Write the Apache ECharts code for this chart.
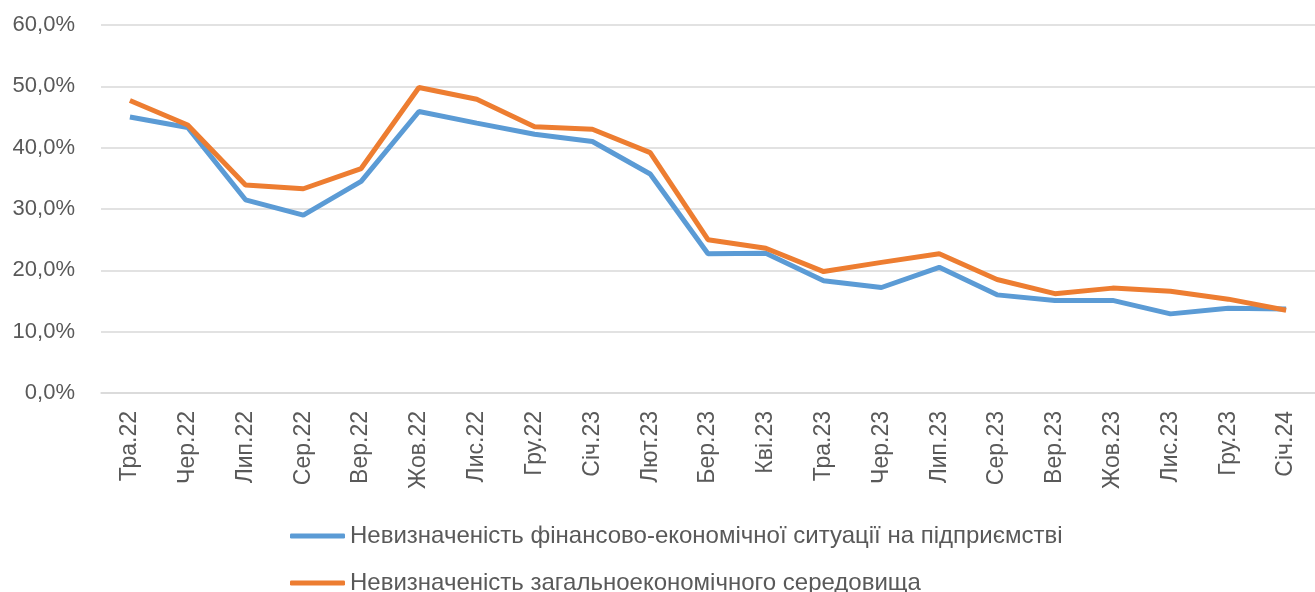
<!DOCTYPE html>
<html>
<head>
<meta charset="utf-8">
<script src="https://cdn.jsdelivr.net/npm/echarts@6/dist/echarts.min.js"></script>
<style>
  html, body { margin: 0; padding: 0; background: #fff; }
  #chart { width: 1315px; height: 592px; }
</style>
</head>
<body>
<div id="chart"></div>
<script>
// місяці
const months = ['Тра.22', 'Чер.22', 'Лип.22', 'Сер.22', 'Вер.22', 'Жов.22', 'Лис.22', 'Гру.22', 'Січ.23', 'Лют.23',
  'Бер.23', 'Кві.23', 'Тра.23', 'Чер.23', 'Лип.23', 'Сер.23', 'Вер.23', 'Жов.23', 'Лис.23', 'Гру.23', 'Січ.24'];

const seriesNames = [
  'Невизначеність фінансово-економічної ситуації на підприємстві',
  'Невизначеність загальноекономічного середовища'
];

// значення, %
const finSituation = [45.0, 43.3, 31.5, 29.0, 34.5, 45.9, 44.0, 42.2, 41.0, 35.7,
  22.7, 22.8, 18.3, 17.2, 20.5, 16.0, 15.1, 15.1, 12.9, 13.8, 13.7];
const generalEnv = [47.7, 43.7, 33.9, 33.3, 36.6, 49.8, 47.9, 43.4, 43.0, 39.2,
  25.0, 23.6, 19.8, 21.3, 22.7, 18.5, 16.2, 17.1, 16.6, 15.3, 13.5];

const colors = ['#5B9BD5', '#ED7D31'];
const fontFamily = 'Liberation Sans, Arial, sans-serif';

const chart = echarts.init(document.getElementById('chart'));

// легенда в два рядки — окремий блок на кожну серію
const makeLegend = (name, top) => ({
  left: 285,
  top: top,
  icon: 'roundRect',
  itemWidth: 55,
  itemHeight: 5,
  textStyle: { fontSize: 24, color: '#595959', fontFamily: fontFamily },
  data: [name]
});

const option = {
  animation: false,
  textStyle: { fontFamily: fontFamily },
  grid: {
    left: 101,
    right: -10,
    top: 25,
    bottom: 199
  },
  legend: [
    makeLegend(seriesNames[0], 519),
    makeLegend(seriesNames[1], 566)
  ],
  xAxis: {
    type: 'category',
    data: months,
    boundaryGap: true,
    axisLine: { lineStyle: { color: '#d9d9d9', width: 1.5 } },
    axisTick: { show: false },
    axisLabel: {
      rotate: 90,
      margin: 18,
      fontSize: 23,
      color: '#595959',
      interval: 0
    }
  },
  yAxis: {
    type: 'value',
    min: 0,
    max: 60,
    interval: 10,
    axisLine: { show: false },
    axisTick: { show: false },
    axisLabel: {
      margin: 26,
      fontSize: 22,
      color: '#595959',
      formatter: v => v.toFixed(1).replace('.', ',') + '%'
    },
    splitLine: { lineStyle: { color: '#d9d9d9', width: 1.5 } }
  },
  series: [
    {
      name: seriesNames[0],
      type: 'line',
      data: finSituation,
      symbol: 'none',
      lineStyle: { color: colors[0], width: 5 },
      itemStyle: { color: colors[0] }
    },
    {
      name: seriesNames[1],
      type: 'line',
      data: generalEnv,
      symbol: 'none',
      lineStyle: { color: colors[1], width: 5 },
      itemStyle: { color: colors[1] }
    }
  ]
};

chart.setOption(option);
</script>
</body>
</html>
